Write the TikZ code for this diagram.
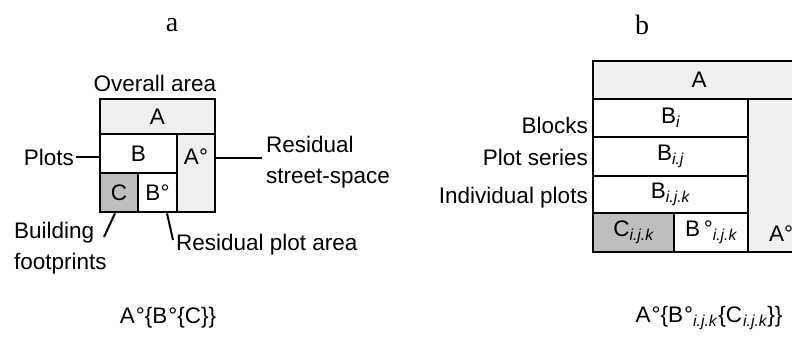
\documentclass[tikz,border=0pt]{standalone}
\usepackage{fontspec}
\setmainfont{Liberation Sans}
\newfontfamily\titlefont{Liberation Serif}
\tikzset{
  cell/.style={draw=black, line width=2.6pt, rectangle, inner sep=0pt, font=\fontsize{22.5}{27}\selectfont},
  lbl/.style={inner sep=2pt, font=\fontsize{22.5}{31}\selectfont},
  conn/.style={draw=black, line width=2pt},
  ttl/.style={font=\titlefont\fontsize{28}{32}\selectfont},
}
\definecolor{lightfill}{HTML}{EFEFEF}
\definecolor{darkfill}{HTML}{BEBEBE}
\begin{document}
\begin{tikzpicture}[x=1pt,y=-1pt]
\useasboundingbox (0,0) rectangle (792,341);
\clip (0,0) rectangle (792,341);
% titles
\node[ttl] (ta) at (172,25) {a};
\node[ttl] (tb) at (642,25) {b};
% ---------- panel a ----------
\node[cell, fill=lightfill, minimum width=115pt, minimum height=35pt] (aA) at (157.5,116.5) {A};
\node[cell, fill=white, minimum width=77pt, minimum height=39pt] (aB) at (138.5,153.5) {B};
\node[cell, fill=lightfill, minimum width=38pt, minimum height=78pt] (aAo) at (196,173) {};
\node[lbl] (aAoT) at (196,157) {A°};
\node[cell, fill=darkfill, minimum width=38pt, minimum height=39pt] (aC) at (119,192.5) {C};
\node[cell, fill=white, minimum width=39pt, minimum height=39pt] (aBo) at (157.5,192.5) {B°};
\node[lbl] (overall) at (155,83) {Overall area};
\node[lbl, anchor=east] (plots) at (76,157) {Plots};
\draw[conn] (plots.east) -- (plots.east -| aB.west);
\node[lbl, anchor=west, align=left] (rss) at (264,162) {Residual\\street-space};
\coordinate (rssc) at (262,158);
\draw[conn] (aAo.east |- rssc) -- (rssc);
\node[lbl, anchor=north west, align=left] (bfp) at (12,220) {Building\\footprints};
\coordinate (bfc) at (104,237);
\draw[conn] ([xshift=-4pt]aC.south) -- (bfc);
\node[lbl, anchor=west] (rpa) at (174,245) {Residual plot area};
\coordinate (rpac) at (173,240);
\draw[conn] ([xshift=9.5pt]aBo.south) -- (rpac);
\node[lbl] (fa) at (168,318) {A\kern1pt°\{B\kern1pt°\{C\}\}};
% ---------- panel b ----------
\node[cell, fill=lightfill, minimum width=212pt, minimum height=38pt] (bA) at (699,80) {A};
\node[cell, fill=lightfill, minimum width=57pt, minimum height=153pt] (bAo) at (776.5,175.5) {};
\node[lbl] (bAoT) at (781,234) {A°};
\node[cell, fill=white, minimum width=155pt, minimum height=38pt] (bBi) at (670.5,118) {B\textsubscript{\itshape i}};
\node[cell, fill=white, minimum width=155pt, minimum height=39pt] (bBij) at (670.5,156.5) {B\textsubscript{\itshape i.j}};
\node[cell, fill=white, minimum width=155pt, minimum height=37pt] (bBijk) at (670.5,194.5) {B\textsubscript{\itshape i.j.k}};
\node[cell, fill=darkfill, minimum width=81pt, minimum height=39pt] (bC) at (633.5,232.5) {C\textsubscript{\itshape i.j.k}};
\node[cell, fill=white, minimum width=74pt, minimum height=39pt] (bBo) at (711,232.5) {B\,°\textsubscript{\itshape i.j.k}};
\node[lbl, anchor=east] (blocks) at (590,125) {Blocks};
\node[lbl, anchor=east] (pseries) at (590,157) {Plot series};
\node[lbl, anchor=east] (iplots) at (590,198) {Individual plots};
\node[lbl] (fb) at (709,318) {A\kern1pt°\{B\kern1pt°\textsubscript{\itshape i.j.k}\kern1pt\{C\kern1pt\textsubscript{\itshape i.j.k}\}\}};
\end{tikzpicture}
\end{document}
